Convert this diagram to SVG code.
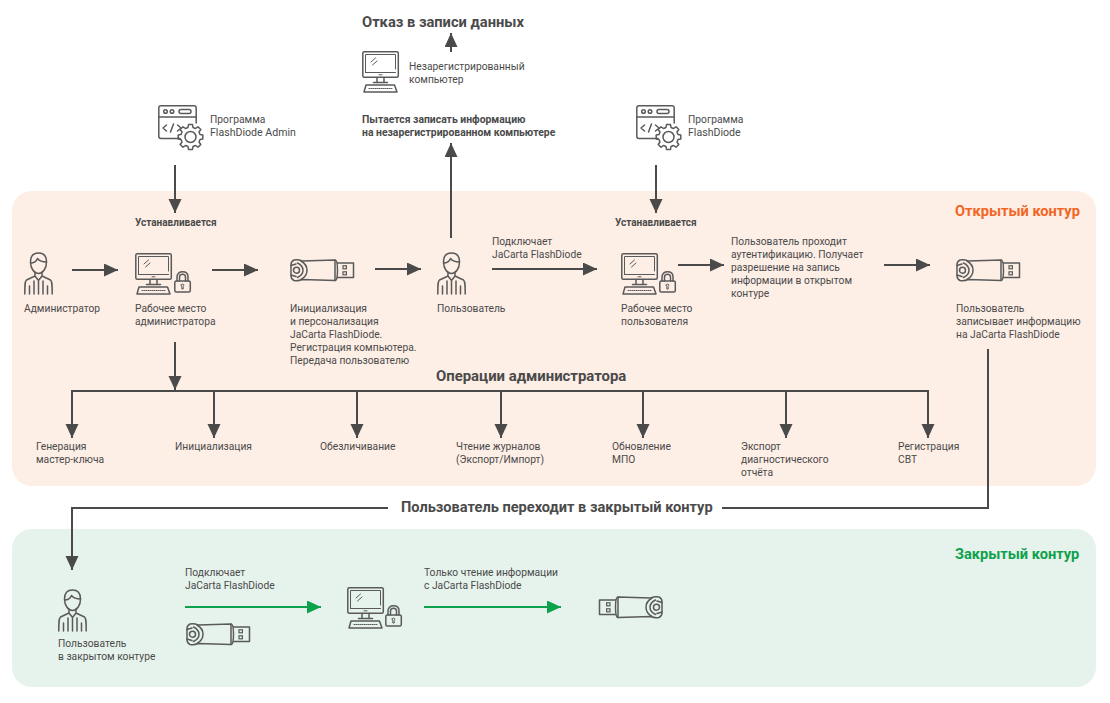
<svg xmlns="http://www.w3.org/2000/svg" width="1110" height="703" viewBox="0 0 1110 703">
<style>
text{font-family:"Roboto","Noto Sans",sans-serif;font-size:10.25px;fill:#4a4a4a}
.h{font-size:14.7px;font-weight:700}
.s{font-size:10.4px;font-weight:700}
.u{font-size:10px;font-weight:700}
.la{font-size:10.6px}
.o{fill:#f26522;font-size:14.6px;font-weight:700}
.g{fill:#0da14b;font-size:14.6px;font-weight:700}
.ln{fill:none;stroke:#4a4a4a;stroke-width:2}
.ar{marker-end:url(#ah)}
.gr{fill:none;stroke:#0da14b;stroke-width:2;marker-end:url(#ag)}
.i{fill:none;stroke:#5a5a5a;stroke-width:1.5;stroke-linejoin:round;stroke-linecap:round}
.t{fill:none;stroke:#5a5a5a;stroke-width:1;stroke-linejoin:round;stroke-linecap:round}
</style>
<defs>
<marker id="ah" markerUnits="userSpaceOnUse" markerWidth="15" markerHeight="14" refX="14" refY="6.500" orient="auto"><path d="M0 0L14 6.500L0 13Z" fill="#4a4a4a"/></marker>
<marker id="ag" markerUnits="userSpaceOnUse" markerWidth="15" markerHeight="14" refX="14" refY="6.500" orient="auto"><path d="M0 0L14 6.500L0 13Z" fill="#0da14b"/></marker>
<g id="person">
<path class="i" d="M6.500 10C6.500 4 9.500 1 14.500 1C19.500 1 22.500 4 22.500 10C22.500 16 19 21.500 14.500 21.500C10 21.500 6.500 16 6.500 10Z"/>
<path class="i" d="M6.500 11C9.500 11 12.500 9 13.500 6.500C15.500 9 19 10 22.500 10"/>
<path class="i" d="M11 20V24L2.500 28C1 29 0.800 31 0.800 42M18 20V24L26.500 28C28 29 28.200 31 28.200 42M11 24L14.500 28.500L18 24M14.500 28.500V42M5.500 42V34M23.500 42V34M10 42V29M19 42V29"/>
</g>
<g id="comp">
<rect class="i" x="0.800" y="0.800" width="35.500" height="25.500" rx="1.500"/>
<path class="t" d="M3.500 21.500V3.500H33.500V18M33.500 21.500H3.500"/>
<path class="t" d="M9 11L13.500 7M10.500 14L15 10"/>
<path class="i" d="M15 26.500V31M22 26.500V31M11.500 31.500H25.500M4 34H32.500L35 41H2Z"/>
<path class="t" d="M7 37.500H30" stroke-width="2" stroke-dasharray="1 1"/>
<path class="t" d="M17 23.800H20"/>
</g>
<g id="lock">
<rect class="i" x="0.800" y="10" width="15.500" height="11" rx="1.500"/>
<path class="i" d="M3 10V6C3 2.500 5.500 0.800 8.500 0.800C11.500 0.800 14 2.500 14 6V10M5.500 10V6C5.500 4 7 3.200 8.500 3.200C10 3.200 11.500 4 11.500 6V10"/>
<path class="t" d="M7.200 14C7.200 12.700 9.800 12.700 9.800 14C9.800 15 9.200 15.300 9.200 15.300V18H7.800V15.300C7.800 15.300 7.200 15 7.200 14Z"/>
</g>
<g id="usb">
<path class="i" d="M12 2L45 1V21.500L12 20.500C10 21.500 8 22 4 21.500C2 20.500 1 19 1 17V5.500C1 3.500 2 2 4 1C8 0.500 10 1 12 2Z"/>
<path class="i" d="M11 2C14.500 4 17 7.500 17 11.200C17 15 14.500 18.500 11 20.500M7.500 4C10.500 5.500 13 8 13 11.200C13 14.500 10.500 17 7.500 18.500"/>
<circle class="i" cx="6.500" cy="11.200" r="3"/>
<path class="i" d="M1 6.500L6 5M1 16L6 17.500"/>
<path class="i" d="M45 1C46.800 1 47.500 5 47.500 11.200C47.500 17.500 46.800 21.500 45 21.500M47.500 4H63.500V18.500H47.500"/>
<rect x="53" y="6.800" width="3.400" height="3" fill="none" stroke="#5a5a5a" stroke-width="1.200"/>
<rect x="53" y="12.800" width="3.400" height="3" fill="none" stroke="#5a5a5a" stroke-width="1.200"/>
</g>
<g id="app">
<path class="i" d="M22 33.500H3A2.200 2.200 0 0 1 0.800 31.300V3A2.200 2.200 0 0 1 3 0.800H36A2.200 2.200 0 0 1 38.200 3V18"/>
<path class="i" d="M0.800 12H38.200"/>
<circle class="i" cx="7.500" cy="6.500" r="1.800"/><circle class="i" cx="14" cy="6.500" r="1.800"/>
<rect class="i" x="21" y="4.500" width="12" height="4" rx="2"/>
<path class="i" d="M8.500 20L5 23L8.500 26M12.500 27L15.500 19M19.500 20L23 23L19.500 26"/>
<g transform="translate(0 2.500)">
<path class="i" d="M30.500 17H34.500L35 20L37.500 21L40 19.300L42.800 22L41 24.500L42 27L44.800 27.500V31.500L42 32L41 34.500L42.800 37L40 39.700L37.500 38L35 39L34.500 42H30.500L30 39L27.500 38L25 39.700L22.200 37L24 34.500L23 32L20.200 31.500V27.500L23 27L24 24.500L22.200 22L25 19.300L27.500 21L30 20Z"/>
<circle class="i" cx="32.500" cy="29.500" r="5.500"/>
</g>
</g>
</defs>

<g id="panels">
<rect id="open-zone" x="12" y="191" width="1084" height="295" rx="20" fill="#fdeee6"/>
<rect id="closed-zone" x="12" y="529" width="1084" height="158" rx="20" fill="#e6f3ec"/>
</g>

<g id="connectors">
<path class="ln ar" d="M175 165V213"/>
<path class="ln ar" d="M656 165V213"/>
<path class="ln ar" d="M72 270H118"/>
<path class="ln ar" d="M212 270H258"/>
<path class="ln ar" d="M375 269H421"/>
<path class="ln ar" d="M451 238V143"/>
<path class="ln ar" d="M451 52V33"/>
<path class="ln ar" d="M492 269H597"/>
<path class="ln ar" d="M678 265H724"/>
<path class="ln ar" d="M884 265H930"/>
<path class="ln ar" d="M175 342V390"/>
<path class="ln" d="M71 391H929"/>
<path class="ln ar" d="M72 391V438"/>
<path class="ln ar" d="M214 391V438"/>
<path class="ln ar" d="M357 391V438"/>
<path class="ln ar" d="M501 391V438"/>
<path class="ln ar" d="M643 391V438"/>
<path class="ln ar" d="M786 391V438"/>
<path class="ln ar" d="M928 391V438"/>
<path class="ln" d="M988 349V508H722"/>
<path class="ln ar" d="M388 508H72V570"/>
<path class="gr" d="M185 607H321"/>
<path class="gr" d="M424 607H561"/>
</g>

<text id="t-refuse" class="h" x="362" y="27">Отказ в записи данных</text>
<g id="unreg-computer"><use href="#comp" x="362" y="51"/><text x="409" y="70">Незарегистрированный</text><text x="409" y="83">компьютер</text></g>
<g id="try-write"><text class="s" x="362" y="123">Пытается записать информацию</text><text class="s" x="362" y="136">на незарегистрированном компьютере</text></g>
<g id="admin-app"><use href="#app" x="158" y="105"/><text x="210" y="123">Программа</text><text class="la" x="210" y="136">FlashDiode Admin</text></g>
<g id="user-app"><use href="#app" x="636" y="105"/><text x="688" y="123">Программа</text><text class="la" x="688" y="136">FlashDiode</text></g>
<text id="zone-open-label" class="o" x="955" y="216">Открытый контур</text>
<text id="inst-1" class="u" x="135" y="226">Устанавливается</text>
<text id="inst-2" class="u" x="615" y="226">Устанавливается</text>

<g id="admin"><use href="#person" x="24" y="252"/><text x="24" y="312">Администратор</text></g>
<g id="admin-ws"><use href="#comp" x="135" y="253"/><use href="#lock" x="174" y="271"/><text x="135" y="312">Рабочее место</text><text x="135" y="325">администратора</text></g>
<g id="init-token"><use href="#usb" x="290" y="259"/><text x="290" y="312">Инициализация</text><text x="290" y="325">и персонализация</text><text x="290" y="338">JaCarta FlashDiode.</text><text x="290" y="351">Регистрация компьютера.</text><text x="290" y="364">Передача пользователю</text></g>
<g id="user"><use href="#person" x="437" y="252"/><text x="437" y="312">Пользователь</text></g>
<g id="connect-1"><text x="492" y="245">Подключает</text><text x="492" y="258">JaCarta FlashDiode</text></g>
<g id="user-ws"><use href="#comp" x="621" y="253"/><use href="#lock" x="659" y="271"/><text x="621" y="312">Рабочее место</text><text x="621" y="325">пользователя</text></g>
<g id="auth"><text x="731" y="245">Пользователь проходит</text><text x="731" y="258">аутентификацию. Получает</text><text x="731" y="271">разрешение на запись</text><text x="731" y="284">информации в открытом</text><text x="731" y="297">контуре</text></g>
<g id="write-token"><use href="#usb" x="956" y="259"/><text x="956" y="312">Пользователь</text><text x="956" y="325">записывает информацию</text><text x="956" y="338">на JaCarta FlashDiode</text></g>

<text id="ops-title" class="h" x="436" y="381" style="font-size:14.9px">Операции администратора</text>
<g id="op-1"><text x="36" y="450">Генерация</text><text x="36" y="463">мастер-ключа</text></g>
<g id="op-2"><text x="175" y="450">Инициализация</text></g>
<g id="op-3"><text x="320" y="450">Обезличивание</text></g>
<g id="op-4"><text x="456" y="450">Чтение журналов</text><text x="456" y="463">(Экспорт/Импорт)</text></g>
<g id="op-5"><text x="612" y="450">Обновление</text><text x="612" y="463">МПО</text></g>
<g id="op-6"><text x="741" y="450">Экспорт</text><text x="741" y="463">диагностического</text><text x="741" y="476">отчёта</text></g>
<g id="op-7"><text x="898" y="450">Регистрация</text><text x="898" y="463">СВТ</text></g>

<text id="go-closed" class="h" x="401" y="512" style="font-size:14.6px">Пользователь переходит в закрытый контур</text>
<text id="zone-closed-label" class="g" x="955" y="559">Закрытый контур</text>

<g id="closed-user"><use href="#person" x="58" y="589"/><text x="58" y="647">Пользователь</text><text x="58" y="660">в закрытом контуре</text></g>
<g id="connect-2"><text x="185" y="576">Подключает</text><text x="185" y="589">JaCarta FlashDiode</text><use href="#usb" x="186" y="623"/></g>
<g id="closed-ws"><use href="#comp" x="347" y="587"/><use href="#lock" x="385" y="605"/></g>
<g id="read-only"><text x="424" y="576">Только чтение информации</text><text x="424" y="589">с JaCarta FlashDiode</text></g>
<g id="closed-token"><use href="#usb" transform="translate(663 596) scale(-1 1)"/></g>
</svg>
